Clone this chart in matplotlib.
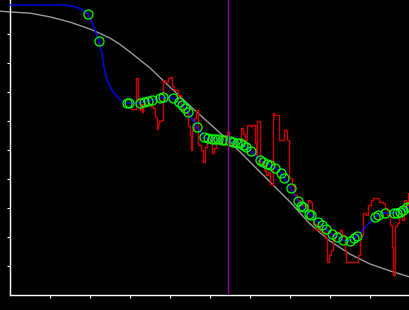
import matplotlib
matplotlib.use("Agg")
import matplotlib.pyplot as plt

# ---- data ----
gray_x = [-0.25, 0, 0.5, 1, 1.5, 2, 2.25, 2.5, 2.75, 3, 3.5, 4, 4.5, 5, 5.5, 6, 6.5, 7, 7.5, 8, 8.5, 9, 9.5, 10]
gray_y = [9.79, 9.76, 9.72, 9.59, 9.41, 9.17, 9.02, 8.86, 8.64, 8.38, 7.83, 7.17, 6.52, 5.90, 5.28,
          4.59, 3.90, 3.21, 2.45, 1.86, 1.41, 1.07, 0.83, 0.62]

lead_x = [0, 1.25, 1.45, 1.625, 1.825, 1.95, 2.05, 2.15, 2.225, 2.30, 2.35, 2.425, 2.55, 2.675, 2.825]
lead_y = [10, 10, 9.99, 9.94, 9.83, 9.69, 9.38, 9.03, 8.76, 8.34, 7.86, 7.41, 7.07, 6.83, 6.66]

pts_x = [1.95, 2.225, 2.925, 2.975, 3.25, 3.35, 3.45, 3.55, 3.75, 3.825, 4.075, 4.225, 4.30, 4.375,
         4.45, 4.67, 4.85, 4.95, 5.05, 5.125, 5.20, 5.30, 5.375, 5.50, 5.575, 5.675, 5.75, 5.825,
         5.90, 6.025, 6.25, 6.325, 6.425, 6.50, 6.625, 6.775, 6.85, 7.02, 7.20, 7.275, 7.325,
         7.475, 7.525, 7.70, 7.79, 7.89, 8.04, 8.17, 8.32, 8.49, 8.59, 8.675, 9.125, 9.21, 9.375,
         9.60, 9.675, 9.75, 9.825, 9.925, 10.0]
pts_y = [9.69, 8.76, 6.62, 6.62, 6.62, 6.66, 6.69, 6.72, 6.79, 6.83, 6.79, 6.66, 6.55, 6.45,
         6.31, 5.80, 5.46, 5.41, 5.38, 5.38, 5.38, 5.34, 5.34, 5.31, 5.28, 5.24, 5.24, 5.17,
         5.10, 4.97, 4.67, 4.59, 4.52, 4.47, 4.38, 4.21, 4.05, 3.69, 3.24, 3.07, 3.02,
         2.81, 2.76, 2.52, 2.40, 2.28, 2.10, 2.00, 1.89, 1.87, 1.97, 2.03, 2.70, 2.76, 2.83,
         2.83, 2.84, 2.87, 2.93, 3.02, 3.05]

red_x = [3.025, 3.15, 3.2, 3.25, 3.275, 3.3, 3.325, 3.5, 3.575, 3.625, 3.675, 3.7, 3.725, 3.775,
         3.825, 3.875, 3.95, 4.0, 4.05, 4.1, 4.2, 4.275, 4.325, 4.4, 4.45, 4.5, 4.525, 4.55, 4.6,
         4.65, 4.7, 4.775, 4.825, 4.875, 4.925, 5.0, 5.05, 5.1, 5.15, 5.2, 5.25, 5.3, 5.375,
         5.425, 5.475, 5.55, 5.6, 5.675, 5.75, 5.775, 5.825, 5.875, 5.925, 6.0, 6.05, 6.125,
         6.15, 6.175, 6.25, 6.3, 6.35, 6.4, 6.45, 6.5, 6.55, 6.575, 6.6, 6.725, 6.85, 6.925,
         6.975, 7.05, 7.1, 7.175, 7.25, 7.3, 7.375, 7.45, 7.5, 7.55, 7.575, 7.65, 7.7, 7.75,
         7.875, 7.925, 7.975, 8.025, 8.075, 8.125, 8.25, 8.3, 8.375, 8.4, 8.7, 8.75, 8.775,
         8.825, 8.9, 8.95, 9.025, 9.075, 9.125, 9.225, 9.325, 9.375, 9.425, 9.5, 9.55, 9.575,
         9.625, 9.675, 9.725, 9.8, 9.85, 9.9, 9.95, 10.0]
red_y = [6.41, 7.48, 6.66, 6.38, 6.59, 6.31, 6.59, 6.52, 6.45, 6.14, 5.72, 5.90, 6.00, 6.03,
         7.41, 7.34, 7.48, 7.52, 7.21, 7.07, 6.90, 6.52, 6.31, 6.28, 5.83, 5.52, 5.00, 5.69, 6.10,
         6.38, 5.17, 5.00, 4.59, 5.10, 5.41, 5.34, 4.90, 5.07, 5.28, 5.41, 5.28, 5.45, 5.48,
         5.62, 5.21, 5.10, 5.28, 5.38, 5.28, 5.76, 5.55, 5.34, 5.86, 5.83, 5.86, 5.24,
         4.72, 6.00, 4.48, 4.59, 4.31, 4.14, 4.24, 3.83, 3.79, 6.28, 6.21, 5.34, 5.69, 5.34,
         4.03, 3.79, 3.45, 3.28, 3.17, 3.10, 3.00, 3.28, 3.21, 2.93, 2.45, 2.24, 2.38, 2.17,
         1.97, 1.14, 1.38, 1.55, 1.90, 2.17, 2.24, 2.07, 1.55, 1.14, 1.38, 2.07, 2.07,
         2.83, 2.76, 3.10, 3.28, 3.34, 3.34, 3.21, 3.17, 3.00, 2.76, 2.41, 1.66, 0.69,
         2.38, 2.48, 2.76, 2.59, 3.28, 3.10, 3.52, 3.52]

vline_x = 5.45
xticks = [1, 2, 3, 4, 5, 6, 7, 8, 9]
yticks = [1, 2, 3, 4, 5, 6, 7, 8, 9]

# ---- figure ----
W, H = 410, 310
fig = plt.figure(figsize=(W / 100, H / 100), dpi=100, facecolor="black")
ax = fig.add_axes([10 / W, 15 / H, 400 / W, 295 / H], facecolor="black")
ax.set_xlim(0, 10)
ax.set_ylim(0, 295 / 29)

ax.plot(gray_x, gray_y, color="#9a9a9a", lw=1.0, clip_on=False, zorder=2)
ax.plot(red_x, red_y, color="#cc0000", lw=1.0, drawstyle="steps-post", zorder=3)
ax.plot(lead_x + pts_x[2:], lead_y + pts_y[2:], color="#0000ff", lw=1.0, zorder=4)
ax.plot(pts_x, pts_y, ls="none", marker="o", ms=6.5, mfc="none", mec="#00ff00", mew=0.9, zorder=5)
ax.axvline(vline_x, color="#990099", lw=1.0, zorder=6)

for s in ["top", "right"]:
    ax.spines[s].set_visible(False)
for s in ["left", "bottom"]:
    ax.spines[s].set_color("white")
    ax.spines[s].set_linewidth(1.0)
ax.set_xticks(xticks)
ax.set_yticks(yticks)
ax.tick_params(colors="white", direction="out", length=2.5, width=0.8,
               labelbottom=False, labelleft=False)

fig.savefig("out.png", dpi=100, facecolor="black")
